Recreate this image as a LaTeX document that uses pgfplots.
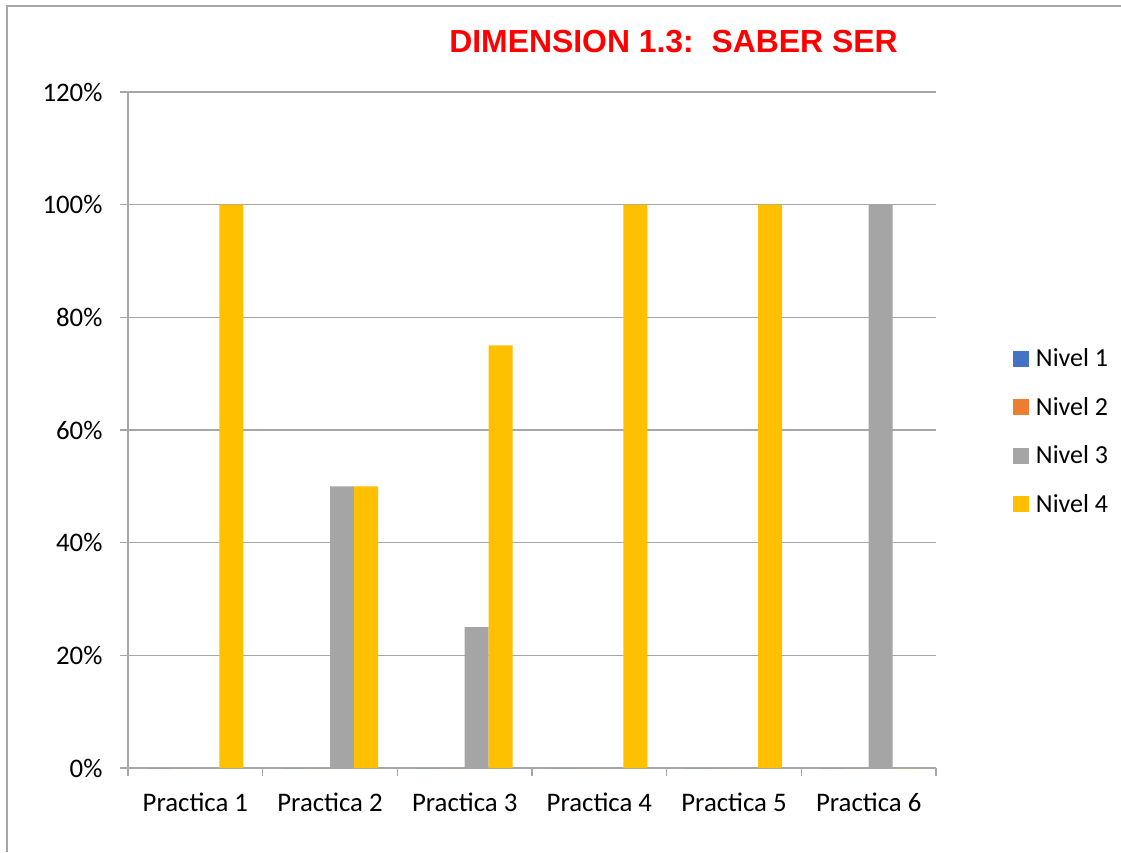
\documentclass[border=0pt]{standalone}
\usepackage{fontspec}
\setmainfont{Carlito}
\newfontfamily\arialfont{Liberation Sans}
\usepackage{pgfplots}
\pgfplotsset{compat=1.18}

\definecolor{nivA}{HTML}{4472C4}
\definecolor{nivB}{HTML}{ED7D31}
\definecolor{nivC}{HTML}{A5A5A5}
\definecolor{nivD}{HTML}{FFC000}
\definecolor{linegray}{HTML}{A6A6A6}

\begin{document}
\begin{tikzpicture}[x=1pt,y=1pt]
\useasboundingbox (0,0) rectangle (1121,852);
\draw[linegray,line width=1.5pt] (7,0) -- (7,846) -- (1121,846);
\node[font=\arialfont\bfseries\fontsize{31.9}{36}\selectfont,text=red,anchor=base] at (673.5,799) {DIMENSION 1.3:\ \ SABER SER};
\begin{axis}[
    at={(128pt,84pt)}, anchor=south west,
    scale only axis, width=808pt, height=676pt,
    ybar=0pt, bar width=24pt,
    xmin=-0.5, xmax=5.5, ymin=0, ymax=120,
    axis lines=left, axis line style={-, linegray, line width=1.2pt},
    xtick={0,...,5},
    xticklabels={Practica 1,Practica 2,Practica 3,Practica 4,Practica 5,Practica 6},
    major x tick style={draw=none},
    minor xtick={-0.5,0.5,...,5.5},
    minor tick length=8pt,
    ytick={0,20,...,120},
    yticklabel={\pgfmathprintnumber{\tick}\%},
    /pgf/number format/assume math mode=true,
    major tick length=8pt, tick align=outside,
    tick style={linegray, line width=1.2pt},
    ymajorgrids, grid style={linegray, line width=1.2pt},
    ticklabel style={font=\fontsize{26.8}{32}\selectfont},
    xticklabel style={yshift=-13pt},
    yticklabel style={xshift=-14pt},
    legend style={at={(1.0913,0.498)}, anchor=west, draw=none, fill=none,
        font=\fontsize{26}{31}\selectfont, row sep=25pt,
        /tikz/every odd column/.append style={column sep=5pt}},
    legend cell align=left,
    legend image code/.code={\fill[#1] (0pt,-8pt) rectangle (16pt,8pt);},
    clip=false,
]
\addplot[fill=nivA, draw=none] coordinates {(0,0) (1,0) (2,0) (3,0) (4,0) (5,0)};
\addplot[fill=nivB, draw=none] coordinates {(0,0) (1,0) (2,0) (3,0) (4,0) (5,0)};
\addplot[fill=nivC, draw=none] coordinates {(0,0) (1,50) (2,25) (3,0) (4,0) (5,100)};
\addplot[fill=nivD, draw=none] coordinates {(0,100) (1,50) (2,75) (3,100) (4,100) (5,0)};
\legend{Nivel 1, Nivel 2, Nivel 3, Nivel 4}
\end{axis}
\end{tikzpicture}
\end{document}
